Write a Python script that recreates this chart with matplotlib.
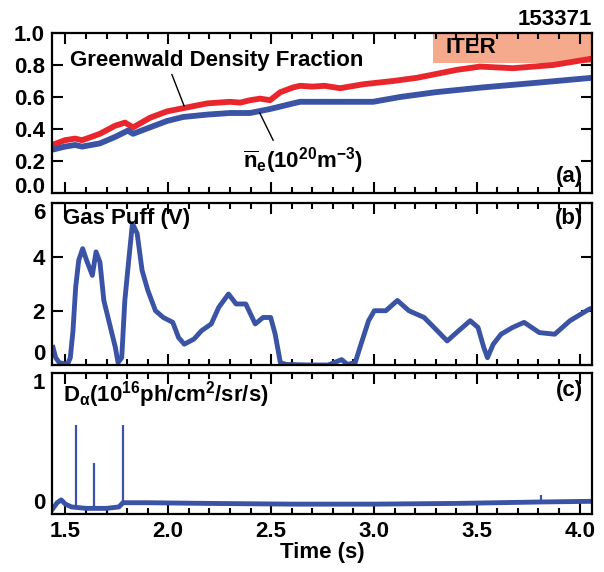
import numpy as np
import matplotlib
matplotlib.use('Agg')
import matplotlib.pyplot as plt

plt.rcParams['font.family'] = ['Liberation Sans', 'DejaVu Sans']
plt.rcParams['font.weight'] = 'bold'
plt.rcParams['axes.labelweight'] = 'bold'
plt.rcParams['mathtext.fontset'] = 'custom'
plt.rcParams['mathtext.rm'] = 'Liberation Sans:bold'
plt.rcParams['mathtext.bf'] = 'Liberation Sans:bold'
plt.rcParams['mathtext.it'] = 'Liberation Sans:bold'
plt.rcParams['mathtext.default'] = 'bf'

RED = '#e8262c'
BLUE = '#3a53a4'
FS = 16

# (a) Greenwald density fraction and line averaged density
gw_t = [1.435, 1.498, 1.547, 1.581, 1.625, 1.668, 1.741, 1.790, 1.829, 1.870, 1.911,
        1.994, 2.072, 2.189, 2.300, 2.350, 2.398, 2.447, 2.495, 2.545, 2.607, 2.641,
        2.700, 2.760, 2.835, 2.950, 3.093, 3.209, 3.287, 3.404, 3.516, 3.676, 3.871, 4.060]
gw_v = [0.30, 0.33, 0.34, 0.33, 0.35, 0.37, 0.42, 0.44, 0.41, 0.44, 0.47,
        0.51, 0.53, 0.56, 0.57, 0.565, 0.58, 0.59, 0.58, 0.63, 0.66, 0.67,
        0.665, 0.67, 0.655, 0.68, 0.70, 0.72, 0.74, 0.77, 0.79, 0.78, 0.80, 0.84]

ne_t = [1.435, 1.498, 1.547, 1.581, 1.668, 1.741, 1.804, 1.829, 1.911, 1.994, 2.072,
        2.189, 2.300, 2.398, 2.495, 2.607, 2.641, 2.800, 2.996, 3.127, 3.300, 3.530, 3.800, 4.060]
ne_v = [0.27, 0.29, 0.30, 0.29, 0.31, 0.35, 0.39, 0.37, 0.41, 0.45, 0.475,
        0.49, 0.50, 0.50, 0.525, 0.56, 0.57, 0.57, 0.57, 0.60, 0.63, 0.66, 0.69, 0.72]

iter_start = 3.287
iter_range = (0.81, 1.0)
shot = '153371'

# (b) gas puff
gas_t = [1.440, 1.453, 1.470, 1.510, 1.524, 1.537, 1.550, 1.565, 1.584, 1.603, 1.631,
         1.649, 1.668, 1.687, 1.715, 1.743, 1.756, 1.774, 1.789, 1.808, 1.826, 1.849,
         1.873, 1.901, 1.938, 1.976, 2.022, 2.050, 2.078, 2.125, 2.162, 2.209, 2.246,
         2.293, 2.330, 2.377, 2.423, 2.461, 2.498, 2.520, 2.545, 2.573, 2.685, 2.778,
         2.843, 2.871, 2.909, 2.937, 2.974, 3.002, 3.058, 3.114, 3.170, 3.244, 3.300,
         3.356, 3.412, 3.468, 3.506, 3.534, 3.552, 3.580, 3.618, 3.674, 3.730, 3.804,
         3.879, 3.953, 4.047, 4.060]
gas_v = [0.65, 0.27, 0.09, 0.02, 0.27, 1.27, 2.88, 3.88, 4.31, 3.88, 3.32,
         4.19, 3.81, 2.39, 1.52, 0.65, 0.09, 0.27, 2.39, 3.88, 5.24, 4.87,
         3.50, 2.76, 2.01, 1.76, 1.58, 1.02, 0.77, 0.96, 1.27, 1.52, 2.14,
         2.63, 2.26, 2.26, 1.52, 1.76, 1.76, 1.14, 0.09, 0.02, 0.00, 0.00,
         0.20, 0.02, 0.09, 0.77, 1.64, 2.01, 2.01, 2.39, 2.01, 1.76, 1.33,
         0.89, 1.27, 1.64, 1.39, 0.65, 0.27, 0.77, 1.14, 1.39, 1.58, 1.20,
         1.14, 1.64, 2.07, 2.10]

# (c) D-alpha
da_t = [1.435, 1.460, 1.480, 1.500, 1.530, 1.600, 1.700, 1.760, 1.780, 1.900,
        2.200, 2.600, 3.000, 3.400, 3.800, 4.060]
da_v = [0.03, 0.08, 0.10, 0.07, 0.05, 0.04, 0.04, 0.05, 0.08, 0.08,
        0.075, 0.07, 0.07, 0.075, 0.085, 0.09]
spike_t = [1.551, 1.641, 1.778, 3.813]
spike_v = [0.63, 0.36, 0.63, 0.135]

xlim = (1.435, 4.06)

fig = plt.figure(figsize=(6.04, 5.72), dpi=100)
ax_a = fig.add_axes([0.0861, 0.6626, 0.894, 0.2797])
ax_b = fig.add_axes([0.0861, 0.3619, 0.894, 0.2832])
ax_c = fig.add_axes([0.0861, 0.1014, 0.894, 0.2465])

for ax in (ax_a, ax_b, ax_c):
    ax.set_xlim(*xlim)
    ax.set_xticks(np.arange(1.5, 4.01, 0.5))
    ax.set_xticks(np.arange(1.5, 4.06, 0.1), minor=True)
    ax.tick_params(which='both', direction='in', top=True, right=True,
                   width=1.5, labelsize=FS, pad=5)
    ax.tick_params(which='major', length=8)
    ax.tick_params(which='minor', length=4)
    for sp in ax.spines.values():
        sp.set_linewidth(1.6)

# panel (a)
ax_a.fill_between([iter_start, xlim[1]], iter_range[0], iter_range[1],
                  color='#f5aa8e', lw=0)
ax_a.text(3.346, 0.91, 'ITER', fontsize=FS, va='center', ha='left')
ax_a.plot(gw_t, gw_v, color=RED, lw=4.2, solid_capstyle='butt')
ax_a.plot(ne_t, ne_v, color=BLUE, lw=4.2, solid_capstyle='butt')
ax_a.set_ylim(0, 1)
ax_a.set_yticks(np.arange(0, 1.01, 0.2))
ax_a.set_yticklabels(['%.1f' % v for v in np.arange(0, 1.01, 0.2)])
ax_a.get_yticklabels()[0].set_va('baseline')
ax_a.tick_params(labelbottom=False)
ax_a.text(2.237, 0.83, 'Greenwald Density Fraction', fontsize=FS, ha='center', va='center')
ax_a.plot([2.018, 2.077], [0.74, 0.545], color='black', lw=1)
ax_a.text(2.655, 0.20, r'$\overline{\mathrm{n}}_{\mathrm{e}}(10^{20}\mathrm{m}^{-3})$',
          fontsize=FS, ha='center', va='center')
ax_a.plot([2.445, 2.51], [0.50, 0.33], color='black', lw=1)
ax_a.text(0.983, 0.04, '(a)', transform=ax_a.transAxes, fontsize=FS, ha='right', va='bottom')
ax_a.text(1.0, 1.02, shot, transform=ax_a.transAxes, fontsize=FS, ha='right', va='bottom')

# panel (b)
ax_b.plot(gas_t, gas_v, color=BLUE, lw=3.5)
ax_b.set_ylim(0, 6)
ax_b.set_yticks([0, 2, 4, 6])
ax_b.tick_params(labelbottom=False)
lbl = ax_b.get_yticklabels()
lbl[0].set_va('bottom')
lbl[-1].set_va('top')
ax_b.text(0.02, 0.97, 'Gas Puff (V)', transform=ax_b.transAxes, fontsize=FS, ha='left', va='top')
ax_b.text(0.983, 0.97, '(b)', transform=ax_b.transAxes, fontsize=FS, ha='right', va='top')

# panel (c)
ax_c.plot(da_t, da_v, color=BLUE, lw=3.5)
ax_c.vlines(spike_t, np.interp(spike_t, da_t, da_v), spike_v, color=BLUE, lw=1.6)
ax_c.set_ylim(0, 1)
ax_c.set_yticks([0, 1])
ax_c.tick_params(axis='y', which='both', length=0)
lbl = ax_c.get_yticklabels()
lbl[0].set_va('bottom')
lbl[-1].set_va('top')
ax_c.set_xticklabels(['%.1f' % v for v in np.arange(1.5, 4.01, 0.5)])
ax_c.text(0.02, 0.85, r'D$_\alpha$(10$^{16}$ph/cm$^2$/sr/s)', transform=ax_c.transAxes,
          fontsize=FS, ha='left', va='center')
ax_c.text(0.983, 0.95, '(c)', transform=ax_c.transAxes, fontsize=FS, ha='right', va='top')
ax_c.set_xlabel('Time (s)', fontsize=FS, labelpad=0)

fig.savefig('out.png', dpi=100)
